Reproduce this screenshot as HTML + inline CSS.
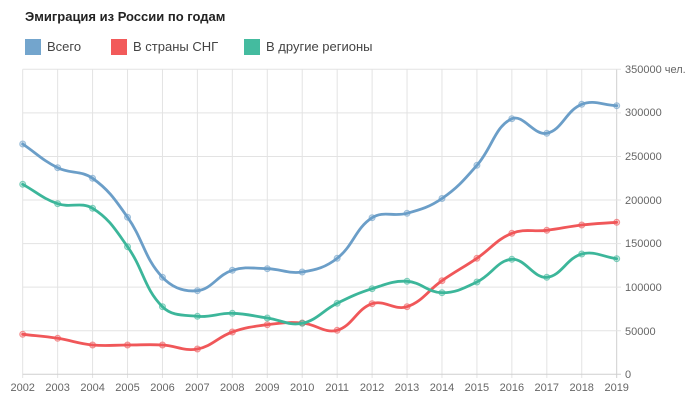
<!DOCTYPE html>
<html><head><meta charset="utf-8"><style>
html,body{margin:0;padding:0;background:#fff;}
body{width:690px;height:412px;position:relative;overflow:hidden;font-family:"Liberation Sans",sans-serif;}
.title{position:absolute;left:25px;top:9px;font-size:13px;font-weight:bold;color:#222;white-space:nowrap;}
.lg{position:absolute;top:39px;height:16px;font-size:13px;color:#444;white-space:nowrap;line-height:16px;}
.lg i{display:inline-block;width:16px;height:16px;vertical-align:top;margin-right:6px;}
svg{position:absolute;left:0;top:0;}
</style></head><body>
<div class="title">Эмиграция из России по годам</div>
<div class="lg" style="left:25px"><i style="background:#73a5cd"></i>Всего</div>
<div class="lg" style="left:111px"><i style="background:#f25a5a"></i>В страны СНГ</div>
<div class="lg" style="left:244px"><i style="background:#44bb9f"></i>В другие регионы</div>
<svg id="c" width="690" height="412" xmlns="http://www.w3.org/2000/svg">
<g id="grid" stroke="#e3e3e3" stroke-width="1"></g>
<g font-family="Liberation Sans, sans-serif" font-size="11" fill="#666">
<text x="625" y="73">350000 чел.</text>
<text x="625" y="116">300000</text>
<text x="625" y="160">250000</text>
<text x="625" y="204">200000</text>
<text x="625" y="247">150000</text>
<text x="625" y="291">100000</text>
<text x="625" y="335">50000</text>
<text x="625" y="378">0</text>
</g>
<g font-family="Liberation Sans, sans-serif" font-size="11" fill="#666" text-anchor="middle">
<text x="22.7" y="391">2002</text><text x="57.6" y="391">2003</text><text x="92.6" y="391">2004</text>
<text x="127.5" y="391">2005</text><text x="162.5" y="391">2006</text><text x="197.4" y="391">2007</text>
<text x="232.3" y="391">2008</text><text x="267.3" y="391">2009</text><text x="302.2" y="391">2010</text>
<text x="337.2" y="391">2011</text><text x="372.1" y="391">2012</text><text x="407.0" y="391">2013</text>
<text x="442.0" y="391">2014</text><text x="476.9" y="391">2015</text><text x="511.9" y="391">2016</text>
<text x="546.8" y="391">2017</text><text x="581.7" y="391">2018</text><text x="616.7" y="391">2019</text>
</g>
<g id="series"></g>
</svg>
<script>
(function(){
var NS="http://www.w3.org/2000/svg";
var g=document.getElementById("grid"), s=document.getElementById("series");
function el(p,tag,a){var e=document.createElementNS(NS,tag);for(var k in a)e.setAttribute(k,a[k]);p.appendChild(e);return e;}
var x0=22.7, st=34.94;
for(var i=0;i<18;i++){var x=x0+i*st;el(g,"line",{x1:x,y1:69.3,x2:x,y2:378,stroke:(i==17?"#cfcfcf":"#e3e3e3")});}
for(var j=0;j<8;j++){var y=69.3+j*43.57;el(g,"line",{x1:x0,y1:y,x2:621,y2:y,stroke:(j==7?"#cfcfcf":"#e3e3e3")});}
var data={
 blue:[144,167.7,178.3,217.2,277.3,290.7,270.3,268.7,272,258.3,217.7,213.3,198.5,165.3,118.7,133.3,104.3,105.7],
 red:[334.3,338.3,345,345,345,349,332,324.7,323,330.3,303.7,306.7,280.7,258.3,233.3,230.3,225,222.3],
 green:[184.3,203.7,208.3,246.7,306.7,316.3,313.3,318,323.3,303.3,288.7,281.3,292.7,282,259.3,277.3,254,258.7]
};
var cols={blue:"#6b9ec8",red:"#f05759",green:"#3cb69a"};
["blue","red","green"].forEach(function(k){
 var ys=data[k],pts=ys.map(function(y,i){return [x0+i*st,y];}),t=0.4,n=pts.length,cp=[];
 for(var i=0;i<n;i++){
  var p=pts[i],pr=pts[i-1]||p,nx=pts[i+1]||p;
  var d01=Math.hypot(p[0]-pr[0],p[1]-pr[1]),d12=Math.hypot(nx[0]-p[0],nx[1]-p[1]);
  var s01=d01/(d01+d12)||0,s12=d12/(d01+d12)||0;
  var fa=t*s01,fb=t*s12;
  cp.push({a:[p[0]-fa*(nx[0]-pr[0]),p[1]-fa*(nx[1]-pr[1])],b:[p[0]+fb*(nx[0]-pr[0]),p[1]+fb*(nx[1]-pr[1])]});
 }
 var d="M"+pts[0][0]+","+pts[0][1];
 for(var i=1;i<n;i++){d+=" C"+cp[i-1].b.join(",")+" "+cp[i].a.join(",")+" "+pts[i].join(",");}
 el(s,"path",{d:d,fill:"none",stroke:cols[k],"stroke-width":"2.8","stroke-linecap":"round"});
 pts.forEach(function(p){el(s,"circle",{cx:p[0],cy:p[1],r:3,fill:cols[k],"fill-opacity":"0.35",stroke:cols[k],"stroke-opacity":"0.6","stroke-width":"1"});});
});
})();
</script>
</body></html>
